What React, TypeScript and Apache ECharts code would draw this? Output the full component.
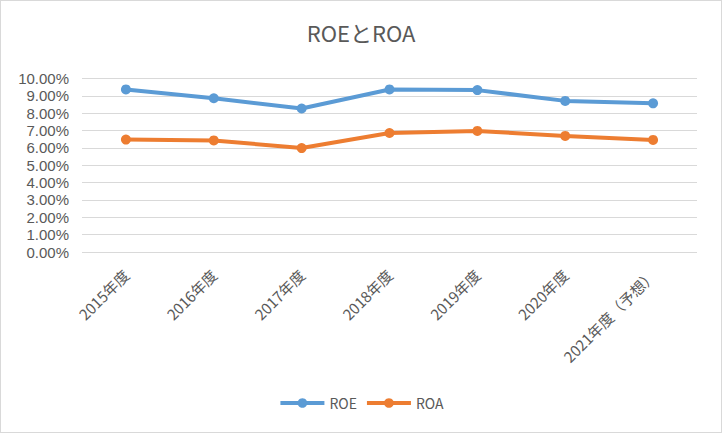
import React, { useEffect, useRef } from "react";
import * as echarts from "echarts";

const categories = [
  "2015年度",
  "2016年度",
  "2017年度",
  "2018年度",
  "2019年度",
  "2020年度",
  "2021年度（予想）",
];
const roe = [9.37, 8.86, 8.27, 9.37, 9.33, 8.71, 8.57];
const roa = [6.48, 6.43, 5.99, 6.86, 6.98, 6.69, 6.46];

const FONT = "'Noto Sans CJK JP', 'Open Sans', sans-serif";
const NUM_FONT = "'Liberation Sans', Arial, sans-serif";
const TEXT = "#595959";

export default function App() {
  const ref = useRef<HTMLDivElement>(null);

  useEffect(() => {
    document.body.style.margin = "0";
    const chart = echarts.init(ref.current!, undefined, { renderer: "svg" });
    chart.setOption({
      animation: false,
      backgroundColor: "#ffffff",
      textStyle: { fontFamily: FONT },
      title: {
        text: "ROEとROA",
        left: "center",
        top: 15,
        textStyle: { fontFamily: FONT, fontSize: 22, fontWeight: "normal", color: TEXT },
      },
      grid: { left: 81, right: 24, top: 77.5, bottom: 180, containLabel: false },
      legend: {
        bottom: 17,
        left: "center",
        itemWidth: 44,
        itemHeight: 12,
        itemGap: 8,
        lineStyle: { width: 4 },
        textStyle: { fontFamily: FONT, fontSize: 14, color: TEXT },
        data: ["ROE", "ROA"],
      },
      xAxis: {
        type: "category",
        data: categories,
        boundaryGap: true,
        axisLine: { show: false },
        axisTick: { show: false },
        axisLabel: {
          rotate: 45,
          interval: 0,
          margin: 20,
          fontSize: 15,
          color: TEXT,
          fontFamily: FONT,
        },
      },
      yAxis: {
        type: "value",
        min: 0,
        max: 10,
        interval: 1,
        axisLine: { show: false },
        axisTick: { show: false },
        splitLine: { lineStyle: { color: "#d9d9d9", width: 1 } },
        axisLabel: {
          margin: 13,
          fontSize: 15,
          lineHeight: 15,
          color: TEXT,
          fontFamily: NUM_FONT,
          formatter: (v: number) => v.toFixed(2) + "%",
        },
      },
      series: [
        {
          name: "ROE",
          type: "line",
          data: roe,
          symbol: "circle",
          symbolSize: 10,
          lineStyle: { width: 4, color: "#5b9bd5" },
          itemStyle: { color: "#5b9bd5" },
        },
        {
          name: "ROA",
          type: "line",
          data: roa,
          symbol: "circle",
          symbolSize: 10,
          lineStyle: { width: 4, color: "#ed7d31" },
          itemStyle: { color: "#ed7d31" },
        },
      ],
    });
    return () => chart.dispose();
  }, []);

  return (
    <div
      style={{
        position: "fixed",
        left: 0,
        top: 0,
        width: 722,
        height: 433,
        boxSizing: "border-box",
        border: "1px solid #d9d9d9",
        background: "#fff",
      }}
    >
      <div ref={ref} style={{ width: 720, height: 431 }} />
    </div>
  );
}
